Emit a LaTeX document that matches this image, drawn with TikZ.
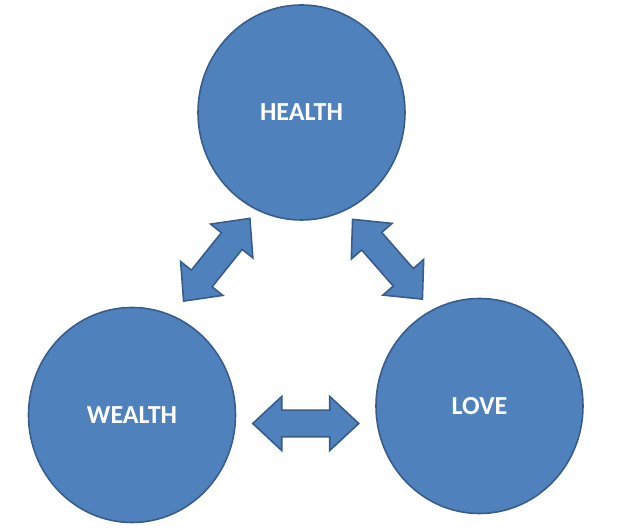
\documentclass[tikz,border=0pt]{standalone}
\usepackage{fontspec}
\setmainfont{Carlito}
\usepackage{xcolor}
\usetikzlibrary{shapes.geometric, shapes.arrows, calc}
\definecolor{bluefill}{HTML}{4F81BD}
\definecolor{blueline}{HTML}{385D8A}

\begin{document}
\begin{tikzpicture}[
    x=1pt, y=1pt,
    font=\fontsize{26}{30}\selectfont\bfseries,
    circ/.style={ellipse, draw=blueline, line width=1.6pt, fill=bluefill,
                 text=white, inner sep=0pt,
                 minimum width=207pt, minimum height=215pt},
    link/.style={double arrow, draw=blueline, line width=1.6pt, fill=bluefill,
                 double arrow tip angle=86, double arrow head extend=13.75pt,
                 inner xsep=0pt, inner ysep=12.5pt, minimum height=106pt}
  ]
  \useasboundingbox (0,0) rectangle (633,532);

  % ===== CIRCLES =====
  \node[circ] (health) at (301.5,419.5) {HEALTH};
  \node[circ] (wealth) at (132,117)     {WEALTH};
  \node[circ] (love)   at (479.5,126)   {LOVE};

  % ===== BLOCK ARROWS =====
  \node[link, rotate=51.3]  (hw) at ($(health)!0.5!(wealth) + (0,4)$)   {};
  \node[link, rotate=-48.8] (hl) at ($(health)!0.5!(love) + (-3,0)$)    {};
  \node[link]               (wl) at ($(wealth)!0.5!(love) + (0,-13)$)   {};

\end{tikzpicture}
\end{document}
